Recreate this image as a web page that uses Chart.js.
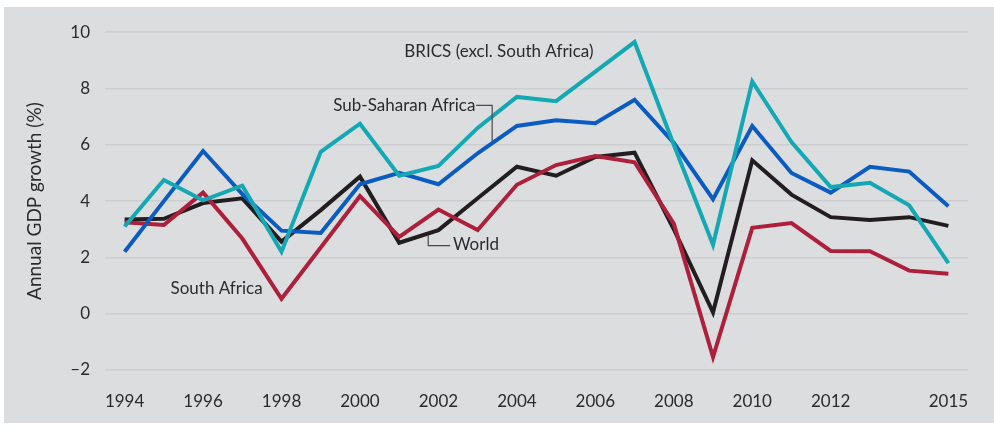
<!DOCTYPE html>
<html>
<head>
<meta charset="utf-8">
<script src="https://cdn.jsdelivr.net/npm/chart.js@4"></script>
<style>
  body { margin: 0; background: #fff; }
  #wrap { position: absolute; left: 4px; top: 7px; width: 990px; height: 416px; background: #dcdddf; }
</style>
</head>
<body>
<div id="wrap"><canvas id="gdpChart"></canvas></div>
<script>
const years = [1994, 1995, 1996, 1997, 1998, 1999, 2000, 2001, 2002, 2003, 2004,
  2005, 2006, 2007, 2008, 2009, 2010, 2011, 2012, 2013, 2014, 2015];
const tickYears = [1994, 1996, 1998, 2000, 2002, 2004, 2006, 2008, 2010, 2012, 2015];

const brics = [3.1, 4.75, 4.03, 4.55, 2.2, 5.75, 6.75, 4.9, 5.25, 6.6, 7.7,
  7.55, 8.6, 9.65, 6.0, 2.45, 8.25, 6.1, 4.5, 4.65, 3.85, 1.8];
const subSaharan = [2.2, 4.0, 5.78, 4.25, 2.95, 2.87, 4.6, 5.0, 4.6, 5.7, 6.67,
  6.87, 6.77, 7.6, 6.07, 4.07, 6.67, 5.0, 4.3, 5.22, 5.05, 3.82];
const southAfrica = [3.25, 3.15, 4.3, 2.67, 0.53, 2.35, 4.18, 2.73, 3.7, 2.97, 4.58,
  5.28, 5.6, 5.38, 3.2, -1.54, 3.05, 3.22, 2.23, 2.22, 1.53, 1.42];
const world = [3.35, 3.37, 3.93, 4.1, 2.56, 3.68, 4.87, 2.52, 2.97, 4.1, 5.22,
  4.9, 5.57, 5.72, 3.0, 0.05, 5.45, 4.23, 3.43, 3.33, 3.43, 3.12];

const FONT = 'Lato, "Open Sans", sans-serif';
const TEXT = '#2b2b2b';

// Series labels and leader lines, placed in data units (year, %)
const labelPlugin = {
  id: 'seriesLabels',
  afterDatasetsDraw(chart) {
    const ctx = chart.ctx;
    const xs = chart.scales.x, ys = chart.scales.y;
    const px = yr => xs.getPixelForValue(yr - years[0]);
    const py = v => ys.getPixelForValue(v);
    ctx.save();
    ctx.font = '17px ' + FONT;
    ctx.fillStyle = TEXT;
    ctx.textBaseline = 'middle';
    ctx.textAlign = 'left';
    ctx.fillText('BRICS (excl. South Africa)', px(2001.13), py(9.33));
    ctx.fillText('Sub-Saharan Africa', px(1999.32), py(7.4));
    ctx.fillText('World', px(2002.37), py(2.46));
    ctx.fillText('South Africa', px(1995.17), py(0.91));

    ctx.strokeStyle = '#4a4a4a';
    ctx.lineWidth = 1.2;
    ctx.beginPath();
    ctx.moveTo(px(2002.96), py(7.4));
    ctx.lineTo(px(2003.37), py(7.4));
    ctx.lineTo(px(2003.37), py(6.1));
    ctx.moveTo(px(2001.74), py(2.8));
    ctx.lineTo(px(2001.74), py(2.42));
    ctx.lineTo(px(2002.3), py(2.42));
    ctx.stroke();
    ctx.restore();
  }
};

function series(data, color) {
  return {
    data: data,
    borderColor: color,
    backgroundColor: color,
    borderWidth: 4,
    pointRadius: 0,
    tension: 0,
    borderJoinStyle: 'miter'
  };
}

new Chart(document.getElementById('gdpChart'), {
  type: 'line',
  data: {
    labels: years,
    datasets: [
      series(brics, '#14a8b4'),
      series(subSaharan, '#0a5cc2'),
      series(southAfrica, '#ae1f3b'),
      series(world, '#221e1f')
    ]
  },
  options: {
    responsive: true,
    maintainAspectRatio: false,
    animation: false,
    layout: { padding: { top: 21, right: 26, left: 0, bottom: 0 } },
    plugins: {
      legend: { display: false },
      tooltip: { enabled: false }
    },
    scales: {
      x: {
        offset: true,
        grid: { display: false, drawTicks: false },
        border: { display: false },
        ticks: {
          autoSkip: false,
          maxRotation: 0,
          padding: 21,
          color: TEXT,
          font: { family: FONT, size: 17 },
          callback: function (val) {
            const yr = years[val];
            return tickYears.includes(yr) ? String(yr) : '';
          }
        },
        afterFit(scale) { scale.height = 53; }
      },
      y: {
        min: -2,
        max: 10,
        grid: { color: '#cdced0', lineWidth: 1.5, drawTicks: false },
        border: { display: false },
        ticks: {
          stepSize: 2,
          padding: 15,
          color: TEXT,
          font: { family: FONT, size: 17 },
          callback: v => v < 0 ? '\u2013' + Math.abs(v) : String(v)
        },
        title: {
          display: true,
          text: 'Annual GDP growth (%)',
          color: TEXT,
          font: { family: FONT, size: 19 },
          padding: { top: 19, bottom: 0 }
        },
        afterFit(scale) { scale.width = 101; }
      }
    }
  },
  plugins: [labelPlugin]
});
</script>
</body>
</html>
